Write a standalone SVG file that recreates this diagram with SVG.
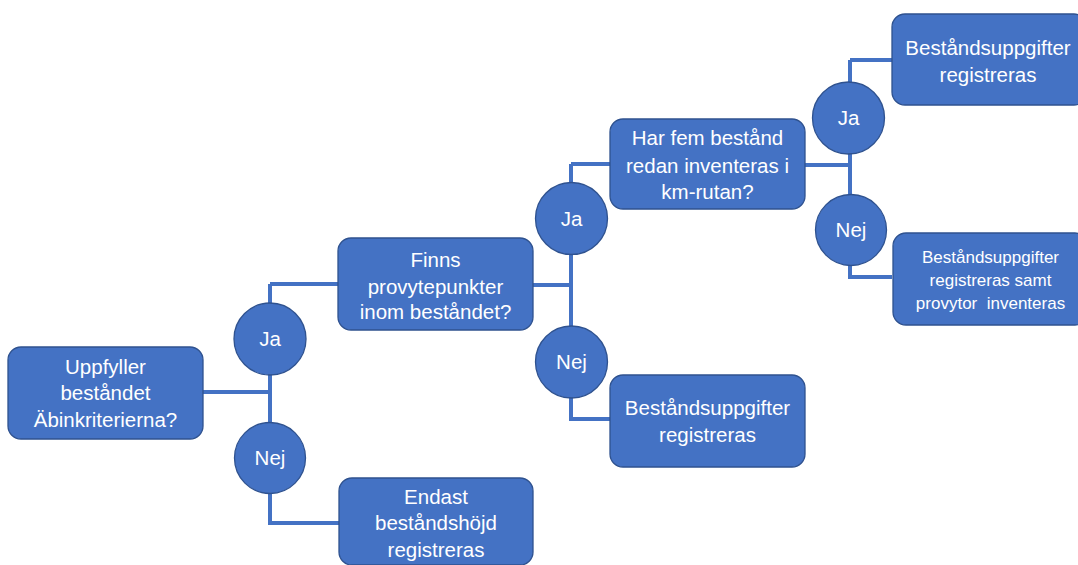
<svg xmlns="http://www.w3.org/2000/svg" width="1078" height="565" viewBox="0 0 1078 565">
<style>
.box{fill:#4472C4;stroke:#2F528F;stroke-width:1.3}
.c{fill:#4472C4;stroke:#2F528F;stroke-width:1.3}
.t{fill:#fff;font-family:"Liberation Sans",Arial,sans-serif;font-size:20.5px;text-anchor:middle}
.s{font-size:17px}
.ln{fill:none;stroke:#4472C4;stroke-width:4}
</style>
<rect width="1078" height="565" fill="#fff"/>
<g id="connectors">
<path class="ln" d="M203 392H270M270 284V523H339M270 284H338"/>
<path class="ln" d="M533 285H571M571 164V419H610M571 164H610"/>
<path class="ln" d="M805 165H850M850 60V277H892M850 60H892"/>
</g>
<g id="n1"><rect class="box" x="8" y="347" width="195" height="92" rx="13"/>
<text class="t" x="105.5" y="374">Uppfyller</text><text class="t" x="105.5" y="400">beståndet</text><text class="t" x="105.5" y="427">Äbinkriterierna?</text></g>
<g id="ja1"><circle class="c" cx="270" cy="339" r="36"/><text class="t" x="270" y="346">Ja</text></g>
<g id="nej1"><circle class="c" cx="270" cy="458" r="35.5"/><text class="t" x="270" y="465">Nej</text></g>
<g id="n2"><rect class="box" x="338" y="238" width="195" height="92" rx="13"/>
<text class="t" x="435.5" y="267">Finns</text><text class="t" x="435.5" y="294">provytepunkter</text><text class="t" x="435.5" y="319">inom beståndet?</text></g>
<g id="n3"><rect class="box" x="339" y="478" width="194" height="87" rx="13"/>
<text class="t" x="436" y="504">Endast</text><text class="t" x="436" y="530">beståndshöjd</text><text class="t" x="436" y="557">registreras</text></g>
<g id="ja2"><circle class="c" cx="571.5" cy="218.5" r="36"/><text class="t" x="571.5" y="225.5">Ja</text></g>
<g id="nej2"><circle class="c" cx="571.5" cy="362" r="36"/><text class="t" x="571.5" y="369">Nej</text></g>
<g id="n4"><rect class="box" x="610" y="119" width="195" height="90" rx="13"/>
<text class="t" x="707.5" y="145">Har fem bestånd</text><text class="t" x="707.5" y="173">redan inventeras i</text><text class="t" x="707.5" y="199">km-rutan?</text></g>
<g id="n5"><rect class="box" x="610" y="375" width="195" height="92" rx="13"/>
<text class="t" x="707.5" y="415">Beståndsuppgifter</text><text class="t" x="707.5" y="442">registreras</text></g>
<g id="ja3"><circle class="c" cx="848.5" cy="118" r="36"/><text class="t" x="848.5" y="125">Ja</text></g>
<g id="nej3"><circle class="c" cx="851" cy="230" r="35.5"/><text class="t" x="851" y="237">Nej</text></g>
<g id="n6"><rect class="box" x="892" y="14" width="195" height="91" rx="13"/>
<text class="t" x="988" y="55">Beståndsuppgifter</text><text class="t" x="988" y="82">registreras</text></g>
<g id="n7"><rect class="box" x="893" y="233" width="195" height="92" rx="13"/>
<text class="t s" x="990.5" y="263">Beståndsuppgifter</text><text class="t s" x="990.5" y="286">registreras samt</text><text class="t s" x="990.5" y="309" xml:space="preserve">provytor  inventeras</text></g>
</svg>
